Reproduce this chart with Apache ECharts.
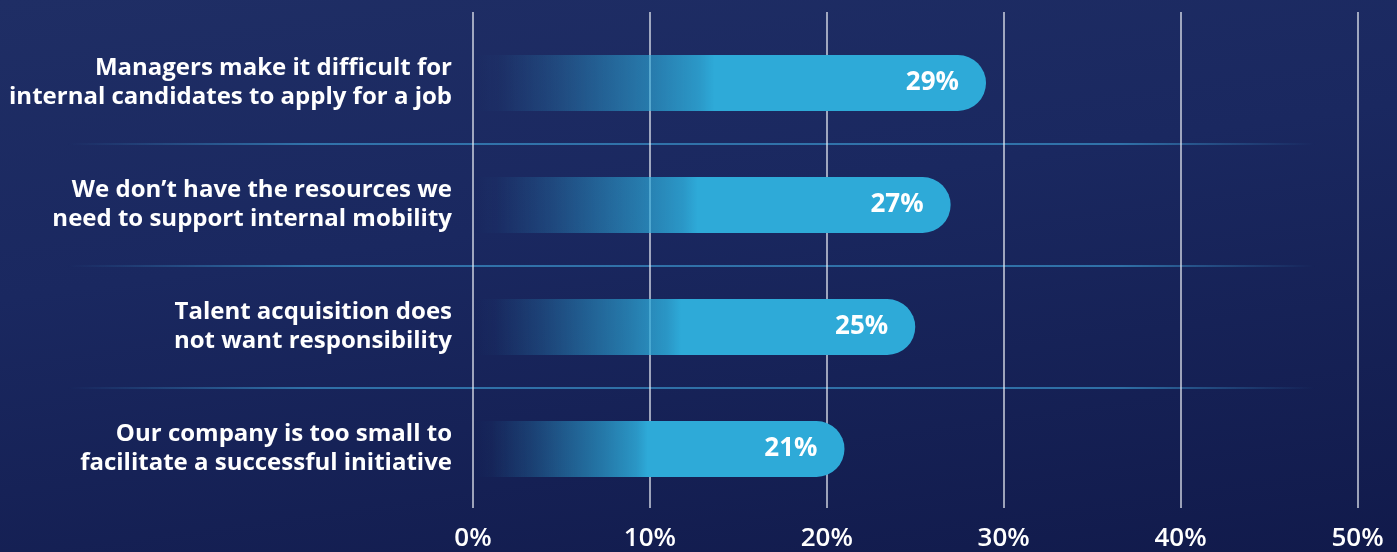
<!DOCTYPE html>
<html>
<head>
<meta charset="utf-8">
<title>Internal mobility barriers</title>
<script src="https://cdn.jsdelivr.net/npm/echarts@6/dist/echarts.min.js"></script>
<style>
  html, body { margin: 0; padding: 0; }
  body { width: 1397px; height: 552px; overflow: hidden;
         background: linear-gradient(172deg, #1f2e65 0%, #1a2860 40%, #111a4b 100%); }
  #chart { width: 1397px; height: 552px; }
</style>
</head>
<body>
<div id="chart"></div>
<script>
// Reasons given for internal mobility not working
const categories = [
  'Managers make it difficult for\ninternal candidates to apply for a job',
  'We don\u2019t have the resources we\nneed to support internal mobility',
  'Talent acquisition does\nnot want responsibility',
  'Our company is too small to\nfacilitate a successful initiative'
];
const shares = [29, 27, 25, 21];
const axisTicks = [0, 10, 20, 30, 40, 50];

const CYAN = '46,170,216';
const FONT = '"Open Sans", "DejaVu Sans", sans-serif';

const chart = echarts.init(document.getElementById('chart'), null, { renderer: 'canvas' });

// bar fill fades in from the background towards the right-hand end
const barFill = new echarts.graphic.LinearGradient(0, 0, 1, 0, [
  { offset: 0.00, color: `rgba(${CYAN},0)` },
  { offset: 0.05, color: `rgba(${CYAN},0.03)` },
  { offset: 0.16, color: `rgba(${CYAN},0.23)` },
  { offset: 0.27, color: `rgba(${CYAN},0.47)` },
  { offset: 0.35, color: `rgba(${CYAN},0.64)` },
  { offset: 0.44, color: `rgba(${CYAN},0.86)` },
  { offset: 0.47, color: `rgba(${CYAN},1)` },
  { offset: 1.00, color: `rgba(${CYAN},1)` }
]);

// row separators fade out at both ends
const separatorFill = new echarts.graphic.LinearGradient(0, 0, 1, 0, [
  { offset: 0.00, color: 'rgba(60,150,205,0)' },
  { offset: 0.05, color: 'rgba(60,150,205,0)' },
  { offset: 0.22, color: 'rgba(60,150,205,0.9)' },
  { offset: 0.80, color: 'rgba(60,150,205,0.9)' },
  { offset: 0.94, color: 'rgba(60,150,205,0)' },
  { offset: 1.00, color: 'rgba(60,150,205,0)' }
]);

const plotLeft = 473;
const plotRight = 39.5;

chart.setOption({
  backgroundColor: 'transparent',
  animation: false,
  grid: [
    { left: plotLeft, right: plotRight, top: 12, bottom: 34 },   // vertical guides + tick labels
    { left: plotLeft, right: plotRight, top: 22, bottom: 42 },   // bars
    { left: 0, right: 0, top: 22, bottom: 42 }                   // row separators
  ],
  xAxis: [
    {
      gridIndex: 0, type: 'value', min: axisTicks[0], max: axisTicks[axisTicks.length - 1], interval: 10,
      axisLine: { show: false }, axisTick: { show: false },
      splitLine: { show: true, lineStyle: { color: 'rgba(235,238,245,0.85)', width: 1.5 } },
      axisLabel: {
        formatter: '{value}%', color: '#ffffff', fontSize: 26, fontWeight: 600, margin: 18,
        fontFamily: FONT
      }
    },
    { gridIndex: 1, type: 'value', min: 0, max: 50, show: false },
    { gridIndex: 2, type: 'value', min: 0, max: 1, show: false }
  ],
  yAxis: [
    { gridIndex: 0, type: 'value', show: false },
    {
      gridIndex: 1, type: 'category', data: categories, inverse: true,
      axisLine: { show: false }, axisTick: { show: false }, splitLine: { show: false },
      axisLabel: {
        color: '#ffffff', fontSize: 24, fontWeight: 'bold', fontFamily: FONT,
        lineHeight: 29, align: 'right', margin: 21
      }
    },
    {
      gridIndex: 2, type: 'category', data: categories, inverse: true,
      axisLine: { show: false }, axisTick: { show: false }, axisLabel: { show: false },
      splitLine: {
        show: true, showMinLine: false, showMaxLine: false,
        lineStyle: { color: separatorFill, width: 1.5 }
      }
    }
  ],
  series: [
    {
      type: 'bar', xAxisIndex: 1, yAxisIndex: 1,
      data: shares, barWidth: 56,
      itemStyle: { color: barFill, borderRadius: [0, 28, 28, 0] },
      label: {
        show: true, position: 'insideRight', distance: 27,
        formatter: '{c}%', color: '#ffffff', fontSize: 26, fontWeight: 'bold', fontFamily: FONT
      }
    }
  ]
});
</script>
</body>
</html>
